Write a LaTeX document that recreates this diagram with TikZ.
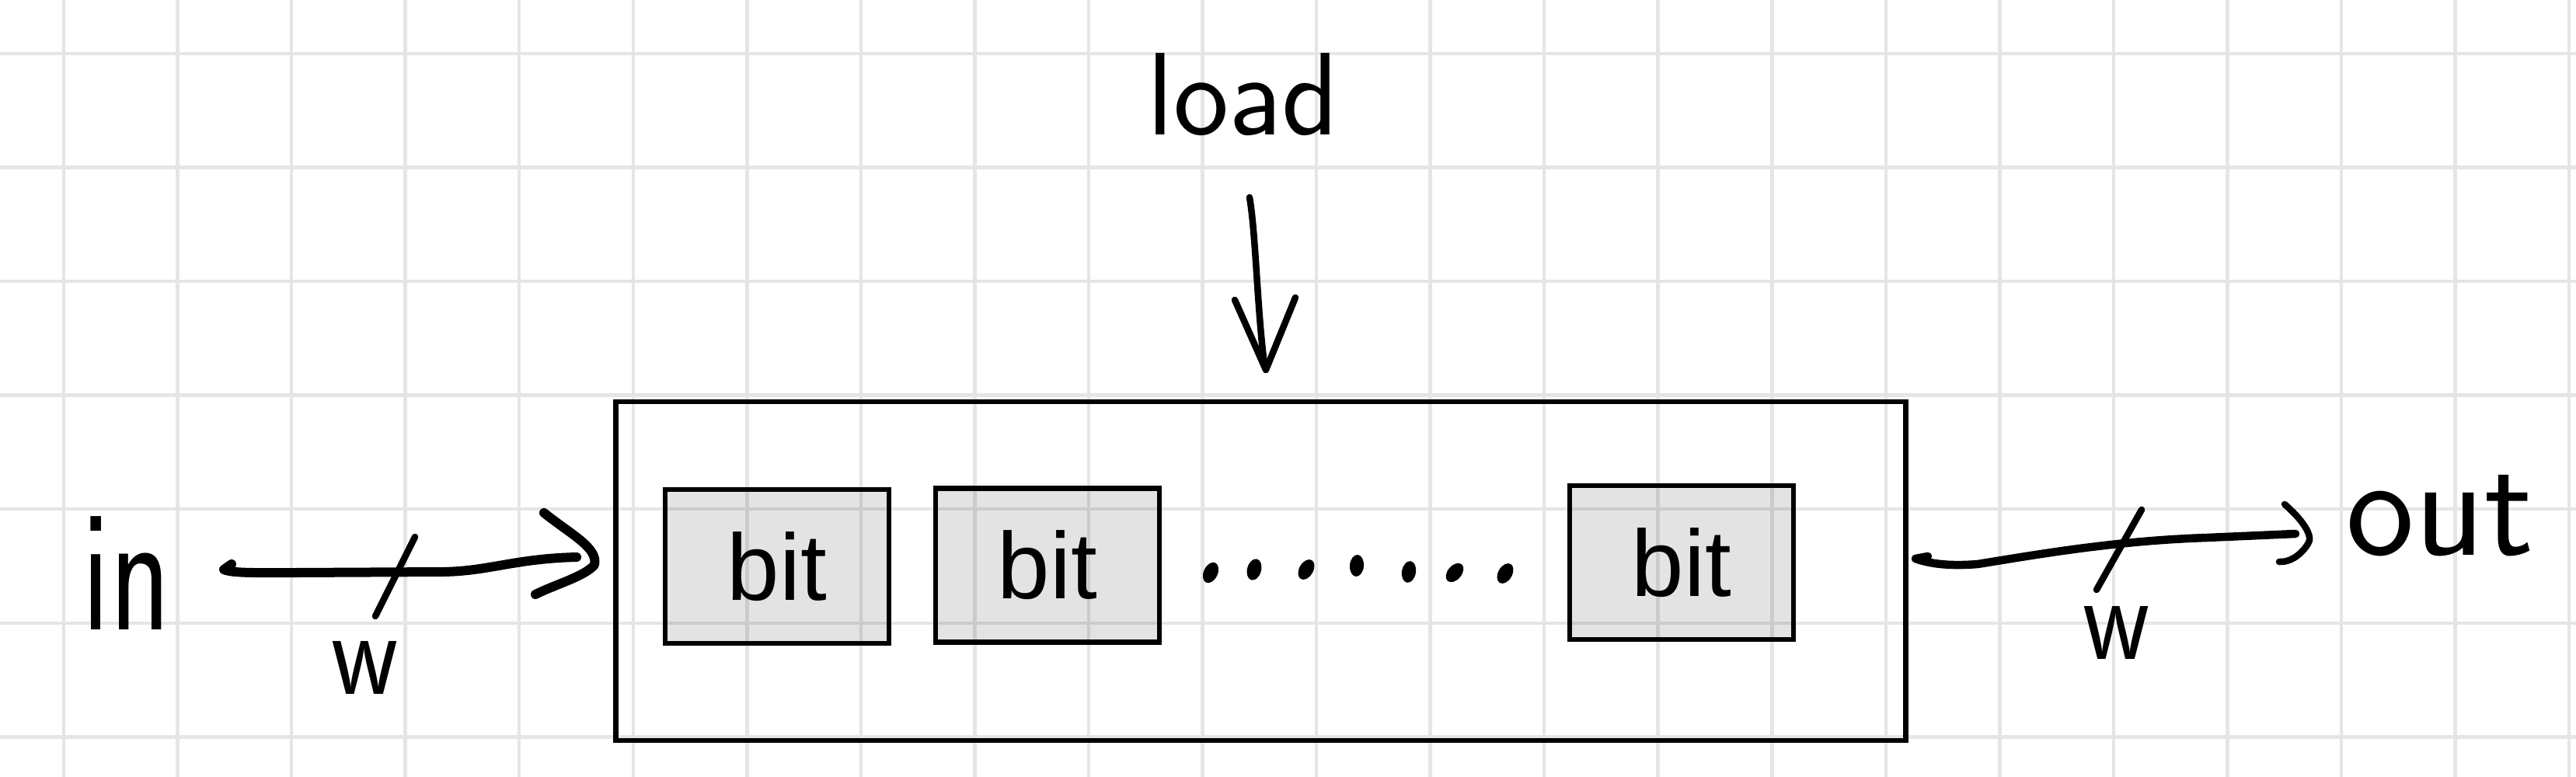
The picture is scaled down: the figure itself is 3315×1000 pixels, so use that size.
\documentclass[tikz,border=0pt]{standalone}
\usepackage{fontspec}
\usepackage{graphicx}
\newfontfamily\bitfont{Liberation Sans}
\usetikzlibrary{arrows.meta}
\definecolor{gridc}{RGB}{229,229,229}
\tikzset{
  gridline/.style={draw=gridc, line width=0.045cm},
  outerbox/.style={draw, line width=0.065cm, minimum width=16.59cm, minimum height=4.36cm, inner sep=0pt},
  bitbox/.style={draw, line width=0.065cm, fill=black, fill opacity=0.11, draw opacity=1, text opacity=1,
    inner sep=0pt, minimum width=2.88cm, minimum height=1.98cm, font=\bitfont\fontsize{34.5}{40}\selectfont},
  hand/.style={line width=0.085cm, line cap=round, line join=round},
  handthick/.style={line width=0.12cm, line cap=round, line join=round},
  lbl/.style={inner sep=0pt, anchor=base},
  dotmark/.style={fill=black},
}
\begin{document}
\begin{tikzpicture}[x=0.01cm,y=-0.01cm]
\useasboundingbox (0,0) rectangle (3315,1000);
\fill[white] (0,0) rectangle (3315,1000);
\foreach \k in {0,...,22} \draw[gridline] ({82+146.55*\k},0) -- ({82+146.55*\k},1000);
\foreach \k in {0,...,6} \draw[gridline] (0,{69+146.55*\k}) -- (3315,{69+146.55*\k});

% register and bits
\node[outerbox] (reg) at (1622.5,735) {};
\node[bitbox] (b1) at (1000,729) {bit};
\node[bitbox] (b2) at (1348,727.5) {bit};
\node[bitbox] (b3) at (2164,724) {bit};

% dots
\foreach \x/\y/\r in {1558/737/-25, 1614/733/-15, 1681/733/-30, 1746/728/-5, 1813/736/-10, 1872/737/-40, 1937/738/-30}
  \fill[dotmark, rotate around={\r:(\x,\y)}] (\x,\y) ellipse [x radius=9, y radius=14];

% labels
\node[lbl, font=\sffamily\fontsize{43}{50}\selectfont] (loadlbl) at (1600,173) {load};
\node[lbl, font=\sffamily\fontsize{64}{70}\selectfont] (inlbl) at (163,810) {\scalebox{0.72}[1]{in}};
\node[lbl, font=\sffamily\fontsize{53}{60}\selectfont] (outlbl) at (3140,714) {out};
\node[lbl, font=\sffamily\fontsize{45}{50}\selectfont] (win) at (470,893) {\scalebox{0.85}[1]{w}};
\node[lbl, font=\sffamily\fontsize{45}{50}\selectfont] (wout) at (2724,848) {\scalebox{0.85}[1]{w}};

% load arrow
\coordinate (loadS) at (1608,254);
\coordinate (loadT) at (1629,476);
\draw[hand] (loadS) .. controls (1616,300) and (1618,400) .. (1627,468);
\draw[hand] (1589,386) -- (loadT) -- (1667,383);

% input arrow
\coordinate (inS) at (288,733);
\coordinate (inT) at (765,727);
\draw[handthick] (298,726) -- (inS) .. controls (300,738) and (330,737) .. (380,737) -- (570,736) .. controls (630,735) and (662,719) .. (742,717);
\draw[handthick] (700,660) .. controls (735,688) and (770,705) .. (inT) .. controls (752,742) and (715,752) .. (689,765);
\draw[hand] (534,691) -- (483,793);

% output arrow
\coordinate (outS) at (2465,719);
\coordinate (outT) at (2970,700);
\draw[line width=0.105cm, line cap=round, line join=round] (2481,716) -- (outS) .. controls (2490,728) and (2520,728) .. (2545,726) .. controls (2620,714) and (2720,696) .. (2840,692) -- (2954,687);
\draw[hand] (2940,649) .. controls (2962,668) and (2978,690) .. (outT) .. controls (2960,716) and (2945,724) .. (2933,723);
\draw[hand] (2756,656) -- (2698,759);
\end{tikzpicture}
\end{document}
